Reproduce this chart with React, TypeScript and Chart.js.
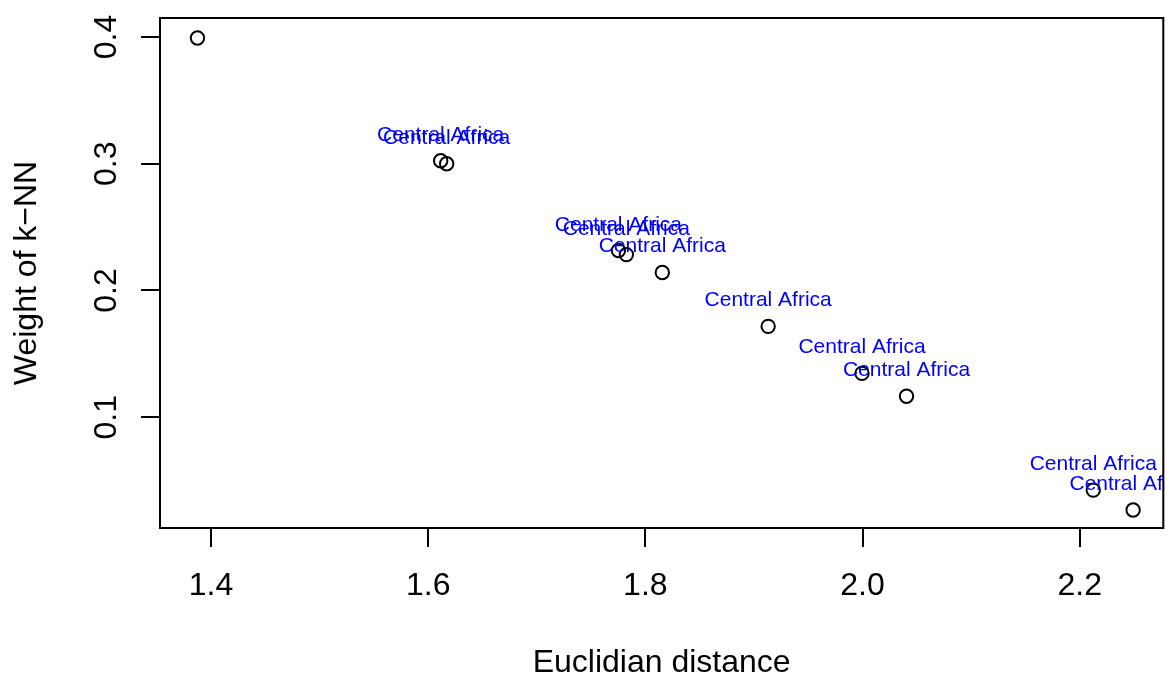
import React, { useEffect, useRef } from "react";
import { Chart, registerables } from "chart.js";

Chart.register(...registerables);

const xValues = [1.3875, 1.6115, 1.617, 1.7752, 1.7825, 1.8156, 1.9131, 1.9995, 2.0405, 2.2125, 2.2492];
const yValues = [0.3992, 0.3024, 0.3, 0.2315, 0.2283, 0.2142, 0.1717, 0.1346, 0.1165, 0.0425, 0.0268];
const pointLabels = [
  "Central Africa", "Central Africa", "Central Africa", "Central Africa",
  "Central Africa", "Central Africa", "Central Africa", "Central Africa",
  "Central Africa", "Central Africa", "Central Africa",
];
const xTicks = [1.4, 1.6, 1.8, 2.0, 2.2];
const yTicks = [0.1, 0.2, 0.3, 0.4];
const xTitle = "Euclidian distance";
const yTitle = "Weight of k\u2212NN";

const FONT = "'Liberation Sans', Arial, Helvetica, sans-serif";

export default function App() {
  const ref = useRef<HTMLCanvasElement | null>(null);
  useEffect(() => {
    if (!ref.current) return;
    const labelPlugin = {
      id: "pointText",
      afterDatasetsDraw(chart: any) {
        const { ctx, chartArea } = chart;
        const meta = chart.getDatasetMeta(0);
        ctx.save();
        ctx.beginPath();
        ctx.rect(chartArea.left, chartArea.top, chartArea.right - chartArea.left + 1, chartArea.bottom - chartArea.top);
        ctx.clip();
        ctx.font = `21px ${FONT}`;
        ctx.fillStyle = "#0000FF";
        ctx.textAlign = "center";
        ctx.textBaseline = "alphabetic";
        meta.data.forEach((el: any, i: number) => {
          ctx.fillText(pointLabels[i], el.x, el.y - 20);
        });
        ctx.restore();
      },
      afterDraw(chart: any) {
        const { ctx, chartArea } = chart;
        ctx.save();
        ctx.strokeStyle = "#000";
        ctx.lineWidth = 2;
        ctx.strokeRect(chartArea.left, chartArea.top, chartArea.right - chartArea.left, chartArea.bottom - chartArea.top);
        ctx.restore();
      },
    };
    const chart = new Chart(ref.current, {
      type: "scatter",
      data: {
        datasets: [
          {
            data: xValues.map((x, i) => ({ x, y: yValues[i] })),
            pointRadius: 6.7,
            pointHoverRadius: 6.7,
            pointBorderWidth: 2,
            pointBorderColor: "#000",
            pointBackgroundColor: "rgba(0,0,0,0)",
            pointStyle: "circle",
          },
        ],
      },
      options: {
        animation: false,
        responsive: false,
        devicePixelRatio: 1,
        layout: { padding: { left: 0, top: 18, right: 7, bottom: 0 } },
        plugins: { legend: { display: false }, tooltip: { enabled: false } },
        scales: {
          x: {
            type: "linear",
            min: 1.353,
            max: 2.277,
            afterBuildTicks: (s: any) => {
              s.ticks = xTicks.map((v) => ({ value: v }));
            },
            afterFit: (s: any) => {
              s.height = 149;
              s.paddingLeft = 0;
              s.paddingRight = 0;
            },
            grid: { drawOnChartArea: false, drawTicks: true, tickLength: 19, color: "#000", lineWidth: 2 },
            border: { display: false },
            ticks: {
              autoSkip: false,
              maxRotation: 0,
              minRotation: 0,
              padding: 20,
              color: "#000",
              font: { family: FONT, size: 32 },
              callback: (v: any) => Number(v).toFixed(1),
            },
            title: {
              display: true,
              text: xTitle,
              color: "#000",
              font: { family: FONT, size: 32, lineHeight: 1 },
              padding: { top: 0, bottom: -2 },
            },
          },
          y: {
            type: "linear",
            min: 0.0126,
            max: 0.415,
            afterBuildTicks: (s: any) => {
              s.ticks = yTicks.map((v) => ({ value: v }));
            },
            afterFit: (s: any) => {
              s.width = 160;
              s.paddingTop = 0;
              s.paddingBottom = 0;
            },
            grid: { drawOnChartArea: false, drawTicks: true, tickLength: 19, color: "#000", lineWidth: 2 },
            border: { display: false },
            ticks: {
              autoSkip: false,
              minRotation: 90,
              maxRotation: 90,
              crossAlign: "center",
              padding: 12,
              color: "#000",
              font: { family: FONT, size: 32 },
              callback: (v: any) => Number(v).toFixed(1),
            },
            title: {
              display: true,
              text: yTitle,
              color: "#000",
              font: { family: FONT, size: 32, lineHeight: 1 },
              padding: { top: 11, bottom: 0 },
            },
          },
        },
      },
      plugins: [labelPlugin],
    } as any);
    return () => chart.destroy();
  }, []);
  return (
    <div style={{ position: "absolute", left: 0, top: 0, width: 1172, height: 677, background: "#fff" }}>
      <canvas ref={ref} width={1172} height={677} style={{ width: 1172, height: 677 }} />
    </div>
  );
}
